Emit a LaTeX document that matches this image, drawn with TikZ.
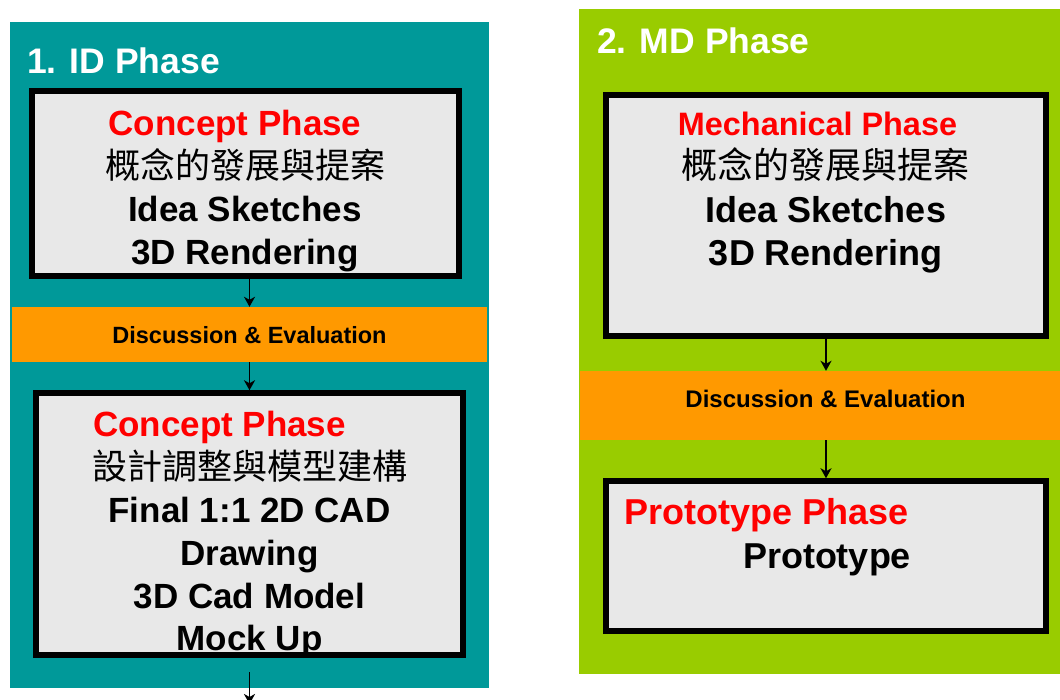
\documentclass[tikz,border=0pt]{standalone}
\usepackage{fontspec}
\setmainfont{Liberation Sans}
\newfontfamily\cjkfont{Noto Sans CJK TC}
\usetikzlibrary{arrows.meta}

\definecolor{idteal}{HTML}{009999}
\definecolor{mdgreen}{HTML}{99CC00}
\definecolor{evalorange}{HTML}{FF9900}
\definecolor{boxgray}{HTML}{E8E8E8}

\tikzset{
  phasebox/.style={draw=black, line width=5.5pt, fill=boxgray, inner sep=0pt},
  evalband/.style={fill=evalorange, inner sep=0pt},
  paneltitle/.style={anchor=base west, inner sep=0pt, text=white,
    font=\fontsize{35.5}{35.5}\selectfont\bfseries},
  redline/.style={anchor=base, inner sep=0pt, text=red,
    font=\fontsize{35}{35}\selectfont\bfseries},
  bodyline/.style={anchor=base, inner sep=0pt,
    font=\fontsize{35}{35}\selectfont\bfseries},
  cjkline/.style={anchor=base, inner sep=0pt,
    font=\fontsize{35}{35}\selectfont\cjkfont},
  evaltext/.style={anchor=base, inner sep=0pt,
    font=\fontsize{23.5}{23.5}\selectfont\bfseries},
  flow/.style={-{Stealth[length=10pt,width=11pt,inset=3pt]}, line width=1.8pt}
}

\begin{document}
\begin{tikzpicture}[x=1pt, y=-1pt]
            \clip (0,0) rectangle (1060,699);
            \fill[white] (0,0) rectangle (1060,699);

            % the two phase panels
            \fill[idteal] (10,22) rectangle (489,688);
            \fill[mdgreen] (579,9) rectangle (1062,674);

            \node[paneltitle] (idtitle) at (27,73) {1. ID Phase};
            \node[paneltitle] (mdtitle) at (597,53) {2. MD Phase};

            % ID phase
            \node[phasebox, minimum width=427pt, minimum height=185pt] (concept1) at (245.5,183.5) {};
            \node[evalband, minimum width=475pt, minimum height=55pt] (disc1) at (249.5,334.5) {};
            \node[phasebox, minimum width=427pt, minimum height=262pt] (concept2) at (249.5,524) {};

            \node[redline] (c1title) at (235,135) {Concept Phase};
            \node[cjkline] (c1cjk) at (245,178) {概念的發展與提案};
            \node[bodyline] (c1idea) at (245,221) {Idea Sketches};
            \node[bodyline] (c1render) at (245,264) {3D Rendering};

            \node[evaltext] (d1text) at (249.5,343) {Discussion \& Evaluation};

            \node[redline] (c2title) at (219.5,436) {Concept Phase};
            \node[cjkline] (c2cjk) at (249.5,479) {設計調整與模型建構};
            \node[bodyline] (c2final) at (249.5,522) {Final 1:1 2D CAD};
            \node[bodyline] (c2draw) at (249.5,565) {Drawing};
            \node[bodyline] (c2model) at (249.5,608) {3D Cad Model};
            \node[bodyline] (c2mock) at (249.5,650) {Mock Up};

            % MD phase
            \node[phasebox, minimum width=440pt, minimum height=241pt] (mech) at (826,215.5) {};
            \node[evalband, minimum width=482pt, minimum height=69pt] (disc2) at (821,405.5) {};
            \node[phasebox, minimum width=440pt, minimum height=150pt] (proto) at (826,556) {};

            \node[redline, font=\fontsize{32.4}{32.4}\selectfont\bfseries] (mtitle) at (817.5,135) {Mechanical Phase};
            \node[cjkline, font=\fontsize{36}{36}\selectfont\cjkfont] (mcjk) at (825,178) {概念的發展與提案};
            \node[bodyline, font=\fontsize{36}{36}\selectfont\bfseries] (midea) at (826,222) {Idea Sketches};
            \node[bodyline, font=\fontsize{36}{36}\selectfont\bfseries] (mrender) at (826,265) {3D Rendering};

            \node[evaltext, font=\fontsize{24}{24}\selectfont\bfseries] (d2text) at (825.5,407) {Discussion \& Evaluation};

            \node[redline, font=\fontsize{36}{36}\selectfont\bfseries] (ptitle) at (767,524) {Prototype Phase};
            \node[bodyline, font=\fontsize{36}{36}\selectfont\bfseries] (pbody) at (827,568) {Prototype};

            % arrows
            \coordinate (out1) at (249.5,672);
            \coordinate (end1) at (249.5,704);

            \draw[flow] (disc1.north |- concept1.south) -- (disc1.north);
            \draw[flow] (disc1.south) -- (concept2.north);
            \draw[flow] (out1) -- (end1);
            \draw[flow] (mech.south) -- (mech.south |- disc2.north);
            \draw[flow] (disc2.south -| proto.north) -- (proto.north);
        \end{tikzpicture}
\end{document}
